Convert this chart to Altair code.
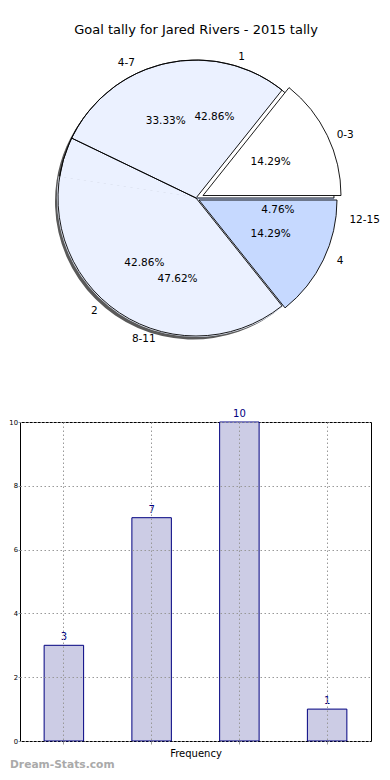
import altair as alt
import pandas as pd
import math

# ---- data ----
title_text = "Goal tally for Jared Rivers - 2015 tally"
ranges = ["0-3", "4-7", "8-11", "12-15"]
range_counts = [3, 7, 10, 1]
goals = ["1", "2", "4"]
goal_counts = [3, 3, 1]
y_ticks = [0, 2, 4, 6, 8, 10]
x_title = "Frequency"
watermark = "Dream-Stats.com"

# ---- styles ----
LIGHT, BLUE = "#EBF1FF", "#C6D9FF"
pie1_fill = ["#FFFFFF", LIGHT, LIGHT, BLUE]
pie1_stroke = ["#000000", "#000000", LIGHT, BLUE]
pie1_sw = [0.9, 0.9, 2.2, 0.9]
pie2_fill = ["#FFFFFF", "#FFFFFF", BLUE]
pie2_fillop = [0, 0, 1]
R = 138
FONT = "DejaVu Sans"
PW, PH = 352, 380

d1 = pd.DataFrame({"label": ranges, "value": range_counts, "order": range(4),
                   "fill": pie1_fill, "stroke": pie1_stroke, "sw": pie1_sw,
                   "fop": [1, 1, 1, 1]})
d2 = pd.DataFrame({"label": goals, "value": goal_counts, "order": range(3),
                   "fill": pie2_fill, "stroke": ["#000000"] * 3, "sw": [0.9] * 3,
                   "fop": pie2_fillop})

theta_scale = alt.Scale(domain=[0, 1], range=[2.5 * math.pi, 0.5 * math.pi])


def prep(df):
    return (alt.Chart(df)
            .transform_joinaggregate(total="sum(value)")
            .transform_calculate(frac="datum.value / datum.total")
            .transform_window(cum="sum(frac)", sort=[alt.SortField("order")],
                              frame=[None, 0])
            .transform_calculate(start="datum.cum - datum.frac",
                                 mid="datum.cum - datum.frac / 2",
                                 pct="format(datum.frac * 100, '.2f') + '%'",
                                 right="cos(2 * PI * (datum.cum - datum.frac / 2)) > 0"))


def arcs(df, only=None, xo=0, yo=0, color=None):
    base = prep(df)
    if only is not None:
        base = base.transform_filter(alt.FieldOneOfPredicate(field="label", oneOf=only))
    mk = base.mark_arc(outerRadius=R, xOffset=xo, yOffset=yo)
    enc = dict(theta=alt.Theta("start:Q", scale=theta_scale), theta2="cum:Q",
               order=alt.Order("order:Q"))
    if color is None:
        enc.update(fill=alt.Fill("fill:N", scale=None),
                   fillOpacity=alt.FillOpacity("fop:Q", scale=None),
                   stroke=alt.Stroke("stroke:N", scale=None),
                   strokeWidth=alt.StrokeWidth("sw:Q", scale=None))
    else:
        enc.update(fill=alt.value(color), strokeOpacity=alt.value(0))
    return mk.encode(**enc)


def pct_text(df):
    return prep(df).mark_text(radius=R * 0.6, font=FONT, fontSize=10.5).encode(
        theta=alt.Theta("mid:Q", scale=theta_scale), text="pct:N")


def label_text(df):
    out = []
    for side, al, dx in [(True, "left", 10), (False, "right", -8)]:
        out.append(prep(df).transform_filter(
            "datum.right" if side else "!datum.right").mark_text(
            radius=145, font=FONT, fontSize=10.5, align=al, dx=dx).encode(
            theta=alt.Theta("mid:Q", scale=theta_scale), text="label:N"))
    return out


shadow = arcs(d1, xo=-3, yo=3.5, color="#5a5a5a")
cover = arcs(d1, color="#FFFFFF")
p1_rest = arcs(d1, only=["4-7", "8-11", "12-15"])
p2_rest = arcs(d2, only=["1", "2"])
p2_expl = arcs(d2, only=["4"], xo=3, yo=2)
p1_expl = arcs(d1, only=["0-3"], xo=7, yo=-2.5)

title = alt.Chart(pd.DataFrame({"t": [title_text]})).mark_text(
    font=FONT, fontSize=13, baseline="middle").encode(
    x=alt.value(PW / 2), y=alt.value(22), text="t:N")

pie = alt.layer(shadow, cover, p1_rest, p2_rest, p2_expl, p1_expl,
                pct_text(d1), pct_text(d2), *label_text(d1), *label_text(d2),
                title).properties(width=PW, height=PH,
                                  view=alt.ViewBackground(stroke=None))

# ---- bar chart ----
bd = pd.DataFrame({"cat": ranges, "count": range_counts})
grid_kw = dict(grid=True, gridDash=[1.5, 2.5], gridColor="#999999", gridWidth=1)
xenc = alt.X("cat:N", sort=ranges, title=x_title,
             scale=alt.Scale(paddingInner=0.55, paddingOuter=0.275),
             axis=alt.Axis(labels=False, ticks=True, tickSize=3, tickColor="#999",
                           domain=False, titleFont=FONT, titleFontSize=10,
                           titleFontWeight="normal", titlePadding=4, zindex=1,
                           **grid_kw))
yenc = alt.Y("count:Q", title=None,
             scale=alt.Scale(domain=[0, 10], nice=False),
             axis=alt.Axis(values=y_ticks, tickSize=2, tickColor="#999",
                           labelFont=FONT, labelFontSize=6.8, labelPadding=0.5,
                           domain=False, minExtent=10, maxExtent=10, zindex=1,
                           **grid_kw))

bars = alt.Chart(bd).mark_bar(fill="#CCCCE5", stroke="#000080", strokeWidth=1).encode(
    x=xenc, y=yenc)
bar_lbl = alt.Chart(bd).mark_text(font=FONT, fontSize=10, color="#000080", dy=-8).encode(
    x=alt.X("cat:N", sort=ranges), y="count:Q", text="count:Q")
wm = alt.Chart(pd.DataFrame({"w": [watermark]})).mark_text(
    font=FONT, fontSize=10.7, fontWeight="bold", color="#aaaaaa", align="left",
    baseline="middle").encode(x=alt.value(-10), y=alt.value(343), text="w:N")

barchart = alt.layer(bars, bar_lbl, wm).properties(
    width=351, height=319, view=alt.ViewBackground(stroke="black", strokeWidth=1))

chart = alt.vconcat(pie, barchart, spacing=20, padding=0)

chart.save("out.html", embed_options={"renderer": "svg", "actions": False})
